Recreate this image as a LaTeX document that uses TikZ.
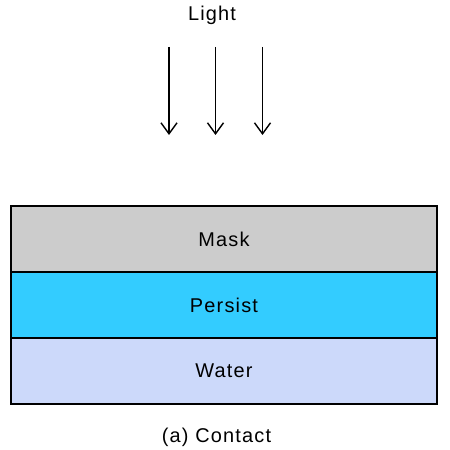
\documentclass[tikz,border=0pt]{standalone}
\usepackage{fontspec}
\setmainfont{Liberation Sans}[LetterSpace = 6]
\usetikzlibrary{arrows.meta, positioning}
\definecolor{maskgray}{HTML}{CCCCCC}
\definecolor{persistcyan}{HTML}{33CCFF}
\definecolor{waterblue}{HTML}{CCD9FA}
\tikzset{
	layer/.style = {draw = black, line width = 1.4bp, minimum width = 426bp, minimum height = 66bp, inner sep = 0pt, outer sep = 0pt, font = \fontsize{20}{24}\selectfont},
	ray/.style = {-{Straight Barb[length = 11bp, width = 16bp, line width = 1.4bp]}, line width = 1.4bp},
	label text/.style = {font = \fontsize{20}{24}\selectfont, inner sep = 0pt}
}
\begin{document}
\begin{tikzpicture}[x = 1bp, y = -1bp]
		\useasboundingbox (0,0) rectangle (450,450);
		% light source
		\node [label text, anchor = base] (light) at (212, 21) {Light};
		\foreach \i/\x in {1/169, 2/215.5, 3/262.5} {
			\coordinate (ray\i top) at (\x, 47);
			\coordinate (ray\i end) at (\x, 135);
			\draw [ray] (ray\i top) -- (ray\i end);
		}
		
		% layer stack
		\node [layer, fill = maskgray] (mask) at (224, 239) {Mask};
		\node [layer, fill = persistcyan, below = 0pt of mask] (persist) {Persist};
		\node [layer, fill = waterblue, below = 0pt of persist] (water) {Water};
		
		\node [label text, anchor = base] (caption) at (216.5, 442) {(a) Contact};
		\end{tikzpicture}
\end{document}
